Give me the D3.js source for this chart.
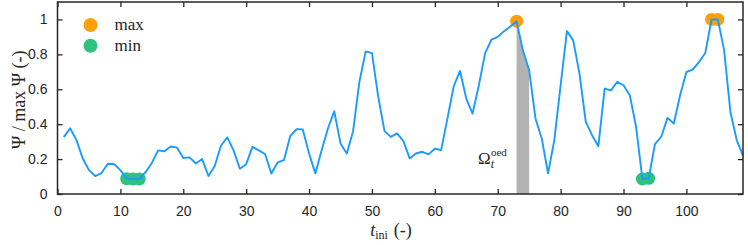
<!DOCTYPE html>
<html>
<head>
<meta charset="utf-8">
<script src="https://cdn.jsdelivr.net/npm/d3@7"></script>
<style>
body { margin: 0; background: #fff; }
.tick text { font-family: "Liberation Sans", Arial, sans-serif; font-size: 14px; fill: #262626; }
.lbl { font-family: "Liberation Serif", "DejaVu Serif", serif; fill: #262626; }
</style>
</head>
<body>
<svg id="canvas"></svg>
<script>
// t_ini = 1..109
let psi = [0.326,0.377,0.31,0.205,0.137,0.103,0.12,0.173,0.171,0.137,
  0.088,0.086,0.086,0.125,0.178,0.25,0.245,0.272,0.266,0.206,
  0.21,0.175,0.2,0.103,0.16,0.278,0.324,0.25,0.145,0.171,
  0.27,0.25,0.229,0.118,0.181,0.194,0.331,0.371,0.37,0.232,
  0.118,0.25,0.375,0.474,0.29,0.232,0.36,0.642,0.817,0.807,
  0.556,0.36,0.327,0.347,0.303,0.204,0.232,0.242,0.227,0.259,
  0.251,0.432,0.617,0.705,0.547,0.461,0.623,0.807,0.884,0.9,
  0.933,0.96,0.99,0.823,0.709,0.433,0.318,0.118,0.309,0.623,
  0.933,0.88,0.69,0.413,0.337,0.274,0.604,0.594,0.642,0.623,
  0.566,0.385,0.086,0.09,0.286,0.328,0.436,0.404,0.566,0.699,
  0.712,0.756,0.808,1.0,1.0,0.823,0.47,0.309,0.22];
let tIni = psi.map((v, i) => i + 1);

let maxT = [73, 104, 105];
let minT = [11, 12, 13, 93, 94];
let bandT = [73, 74, 75];   // shaded Omega_t^oed interval

let xTicks = [0, 10, 20, 30, 40, 50, 60, 70, 80, 90, 100];
let yTicks = [0, 0.2, 0.4, 0.6, 0.8, 1];

var width = 748, height = 245;
var margin = {top: 2, left: 57.5, right: 5, bottom: 51};

let canvas = d3.select('#canvas')
  .attr('width', width)
  .attr('height', height);

var x = d3.scaleLinear().domain([0, 109]).range([margin.left, width - margin.right]);
var y = d3.scaleLinear().domain([0, 1.1]).range([height - margin.bottom, margin.top]);

let data = tIni.map((t, i) => ({t: t, v: psi[i]}));
let val = t => psi[t - 1];

// shaded band under the curve
canvas.append('path')
  .datum(bandT)
  .attr('d', d3.area().x(t => x(t)).y0(y(0)).y1(t => y(val(t))))
  .attr('fill', '#b3b3b3');

// markers (under the line)
canvas.selectAll('.maxdot')
  .data(maxT).enter()
  .append('circle')
  .attr('cx', t => x(t)).attr('cy', t => y(val(t)))
  .attr('r', 6.5).attr('fill', '#ff9f0a');

canvas.selectAll('.mindot')
  .data(minT).enter()
  .append('circle')
  .attr('cx', t => x(t)).attr('cy', t => y(val(t)))
  .attr('r', 6.5).attr('fill', '#2ec27e');

canvas.append('path')
  .datum(data)
  .attr('d', d3.line().x(d => x(d.t)).y(d => y(d.v)))
  .attr('fill', 'none')
  .attr('stroke', '#1a9bff')
  .attr('stroke-width', 1.9)
  .attr('stroke-linejoin', 'round');

// axes, MATLAB style box with inward ticks
function styleAxis(g) {
  g.select('.domain').remove();
  g.selectAll('.tick line').attr('stroke', '#262626').attr('stroke-width', 1.3);
}
canvas.append('g')
  .attr('transform', 'translate(0,' + y(0) + ')')
  .call(d3.axisBottom(x).tickValues(xTicks).tickSizeInner(-5).tickSizeOuter(0).tickPadding(12))
  .call(styleAxis);
canvas.append('g')
  .attr('transform', 'translate(0,' + margin.top + ')')
  .call(d3.axisTop(x).tickValues(xTicks).tickSizeInner(-5).tickSizeOuter(0).tickFormat(''))
  .call(styleAxis);
canvas.append('g')
  .attr('transform', 'translate(' + margin.left + ',0)')
  .call(d3.axisLeft(y).tickValues(yTicks).tickSizeInner(-5).tickSizeOuter(0).tickPadding(10).tickFormat(d3.format('~g')))
  .call(styleAxis);
canvas.append('g')
  .attr('transform', 'translate(' + (width - margin.right) + ',0)')
  .call(d3.axisRight(y).tickValues(yTicks).tickSizeInner(-5).tickSizeOuter(0).tickFormat(''))
  .call(styleAxis);

canvas.append('rect')
  .attr('x', margin.left).attr('y', margin.top)
  .attr('width', width - margin.right - margin.left)
  .attr('height', y(0) - margin.top)
  .attr('fill', 'none')
  .attr('stroke', '#262626')
  .attr('stroke-width', 1.5);

// legend
let legend = [{name: 'max', color: '#ff9f0a'}, {name: 'min', color: '#2ec27e'}];
let lg = canvas.selectAll('.leg').data(legend).enter().append('g')
  .attr('transform', (d, i) => 'translate(90.5,' + (25 + i * 20.7) + ')');
lg.append('circle').attr('r', 7).attr('fill', d => d.color);
lg.append('text').attr('class', 'lbl').attr('x', 24).attr('y', 5)
  .style('font-size', '17px').text(d => d.name);

// Omega label
let om = canvas.append('text').attr('class', 'lbl')
  .attr('x', 478).attr('y', 164).style('font-size', '17px');
om.append('tspan').text('Ω');
om.append('tspan').attr('dy', 4).style('font-style', 'italic').style('font-size', '12px').text('t');
om.append('tspan').attr('dx', -3).attr('dy', -12).style('font-size', '11px').text('oed');

// axis labels
let xl = canvas.append('text').attr('class', 'lbl')
  .attr('x', 391).attr('y', 236).attr('text-anchor', 'middle').style('font-size', '18px');
xl.append('tspan').style('font-style', 'italic').text('t');
xl.append('tspan').attr('dy', 3).style('font-size', '12px').text('ini');
xl.append('tspan').attr('dy', -3).attr('dx', 6).text('(-)');

canvas.append('text').attr('class', 'lbl')
  .attr('transform', 'translate(25,' + y(0.54) + ') rotate(-90)')
  .attr('text-anchor', 'middle')
  .style('font-size', '18px')
  .text('Ψ / max Ψ (-)');
</script>
</body>
</html>
